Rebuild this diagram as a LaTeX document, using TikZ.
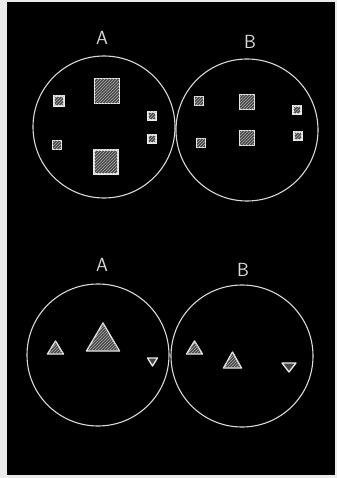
\documentclass[tikz,border=0pt]{standalone}
\usetikzlibrary{patterns}
\begin{document}
\begin{tikzpicture}[x=1pt,y=-1pt,
  ring/.style={draw=white!85!black, line width=1.1pt},
  sq/.style={draw=white!92!black, line width=1.3pt, fill=gray!55!black},
  tri/.style={draw=white!92!black, line width=1.3pt, fill=gray!55!black, line join=round},
  lbl/.style={text=white!85!black, font=\sffamily\fontsize{19}{19}\selectfont, inner sep=0pt}]
\useasboundingbox (0,0) rectangle (337,478);
\fill[white!92!black] (0,0) rectangle (337,478);
\fill[black] (7,2) rectangle (335,475);
% top
\node[lbl] (lA1) at (102,38) {A};
\node[lbl] (lB1) at (250,42) {B};
\draw[ring] (104,127) circle (71);
\draw[ring] (247,130) circle (71);
\newcommand{\sqr}[3]{\draw[sq] (#1-#3/2,#2-#3/2) rectangle (#1+#3/2,#2+#3/2);
  \fill[pattern=north east lines, pattern color=white!70!black] (#1-#3/2,#2-#3/2) rectangle (#1+#3/2,#2+#3/2);}
\sqr{107}{91}{25}
\sqr{106}{162}{24}
\sqr{59}{101}{10}
\sqr{57}{145}{9}
\sqr{152}{116}{8}
\sqr{152}{139}{8}
\sqr{199}{101}{9}
\sqr{247}{102}{15}
\sqr{247}{138}{15}
\sqr{201}{143}{9}
\sqr{297}{110}{8}
\sqr{298}{136}{8}
% bottom
\node[lbl] (lA2) at (102,265) {A};
\node[lbl] (lB2) at (243,270) {B};
\draw[ring] (98,355) circle (71);
\draw[ring] (242,356) circle (71);
\newcommand{\tup}[4]{\draw[tri] (#1-#3/2,#2) -- (#1+#3/2,#2) -- (#1,#2-#4) -- cycle;
  \fill[pattern=north east lines, pattern color=white!70!black] (#1-#3/2,#2) -- (#1+#3/2,#2) -- (#1,#2-#4) -- cycle;}
\newcommand{\tdn}[4]{\draw[tri] (#1-#3/2,#2) -- (#1+#3/2,#2) -- (#1,#2+#4) -- cycle;}
\tup{55.5}{354}{16}{13}
\tup{103}{351}{33}{28}
\tdn{152.5}{358}{10}{8}
\tup{194.5}{354}{16}{13}
\tup{232.5}{368}{18}{16}
\tdn{289}{363}{14}{9}
\end{tikzpicture}
\end{document}
